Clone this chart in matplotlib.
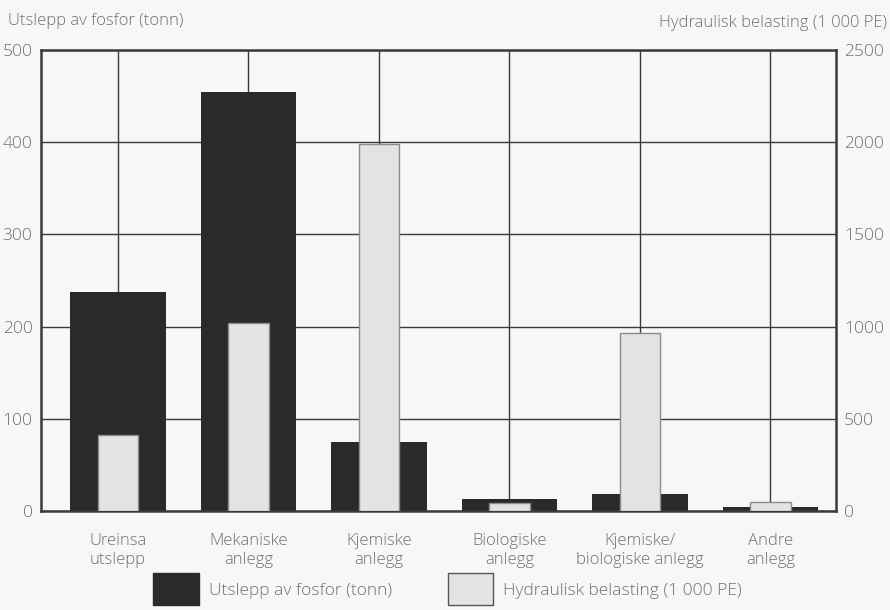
import matplotlib.pyplot as plt
import matplotlib.patches as mpatches
import numpy as np

plt.rcParams["font.family"] = ["Open Sans", "DejaVu Sans"]
plt.rcParams["font.weight"] = "light"

categories = [
    "Ureinsa\nutslepp",
    "Mekaniske\nanlegg",
    "Kjemiske\nanlegg",
    "Biologiske\nanlegg",
    "Kjemiske/\nbiologiske anlegg",
    "Andre\nanlegg",
]
fosfor = [238, 455, 75, 13, 19, 5]            # tonn
hydraulisk = [415, 1020, 1990, 45, 965, 52]   # 1 000 PE
left_ticks = [0, 100, 200, 300, 400, 500]
right_ticks = [0, 500, 1000, 1500, 2000, 2500]

text_col = "#707070"
line_col = "#3a3a3a"
bg = "#f7f7f7"

fig = plt.figure(figsize=(8.9, 6.1), dpi=100, facecolor=bg)
ax = fig.add_axes([0.046, 0.162, 0.893, 0.756], facecolor=bg)
x = np.arange(len(categories))

ax.bar(x, fosfor, width=0.73, color="#2a2a2a", zorder=2)
ax.set_ylim(0, 500)
ax.set_xlim(-0.59, 5.5)
ax.set_yticks(left_ticks)
ax.set_xticks(x)
ax.set_xticklabels(categories, fontsize=12, color=text_col, linespacing=1.2)
ax.tick_params(axis="x", length=0, pad=16)
ax.tick_params(axis="y", length=0, pad=6, labelsize=12.5, labelcolor=text_col)
ax.grid(True, color=line_col, linewidth=1.0, zorder=0)
ax.set_axisbelow(True)
for s in ax.spines.values():
    s.set_color(line_col)
    s.set_linewidth(1.8)

ax2 = ax.twinx()
ax2.bar(x, hydraulisk, width=0.31, color="#e3e3e3", edgecolor="#8c8c8c",
        linewidth=1.0, zorder=3)
ax2.set_ylim(0, 2500)
ax2.set_yticks(right_ticks)
ax2.tick_params(axis="y", length=0, pad=6, labelsize=12.5, labelcolor=text_col)
for s in ax2.spines.values():
    s.set_visible(False)

fig.text(0.009, 0.965, "Utslepp av fosfor (tonn)", fontsize=12,
         color=text_col, va="center")
fig.text(0.997, 0.962, "Hydraulisk belasting (1 000 PE)", fontsize=12,
         color=text_col, va="center", ha="right")

handles = [
    mpatches.Patch(facecolor="#2a2a2a", edgecolor="#2a2a2a"),
    mpatches.Patch(facecolor="#e3e3e3", edgecolor="#555555"),
]
fig.legend(handles, ["Utslepp av fosfor (tonn)", "Hydraulisk belasting (1 000 PE)"],
           loc="center", bbox_to_anchor=(0.503, 0.034), ncol=2, frameon=False,
           fontsize=12.5, handlelength=2.6, handleheight=2.5, columnspacing=3.2,
           labelcolor=text_col, handletextpad=0.6)

fig.savefig("out.png", dpi=100, facecolor=bg)
